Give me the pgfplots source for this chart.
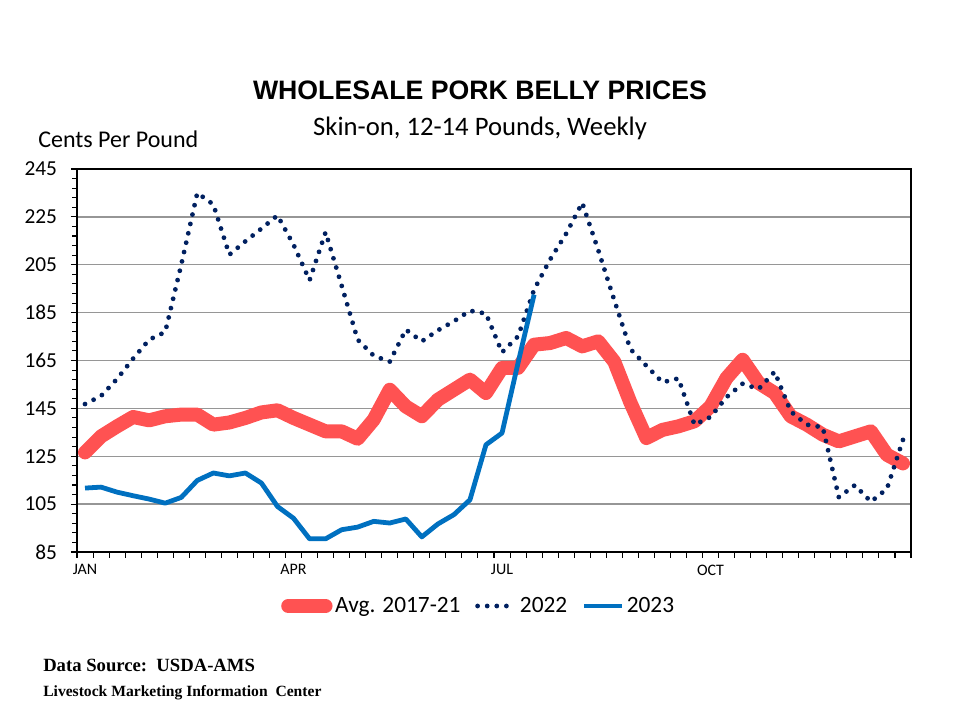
\documentclass[border=0pt]{standalone}
\usepackage{pgfplots}
\pgfplotsset{compat=1.18}
\usepackage{pgfplotstable}
\usepackage{fontspec}
\setmainfont{Carlito}
\newfontfamily\arialfont{Liberation Sans}
\newfontfamily\timesfont{Liberation Serif}

\definecolor{avgred}{RGB}{255,82,82}
\definecolor{navy}{RGB}{0,32,96}
\definecolor{blue23}{RGB}{0,112,192}
\definecolor{gridgray}{RGB}{150,150,150}

% week, cents per pound
\pgfplotstableread{
w avg
1 126.6
2 133.3
3 137.5
4 141.4
5 140.0
6 141.7
7 142.4
8 142.4
9 138.2
10 139.1
11 141.0
12 143.3
13 144.2
14 141.0
15 138.2
16 135.4
17 135.4
18 132.3
19 140.3
20 152.8
21 145.8
22 141.7
23 148.6
24 152.8
25 157.0
26 151.4
27 161.9
28 161.9
29 171.6
30 172.3
31 174.4
32 170.9
33 173.0
34 164.5
35 147.5
36 132.6
37 136.0
38 137.5
39 139.6
40 145.8
41 157.7
42 165.3
43 155.6
44 151.4
45 141.7
46 138.2
47 134.0
48 131.2
49 133.3
50 135.4
51 125.6
52 122.0
}\avgdata

\pgfplotstableread{
w y
1 146.8
2 150.2
3 157.3
4 165.8
5 173.7
6 176.9
7 205.0
8 235.0
9 230.2
10 209.2
11 214.8
12 220.1
13 225.6
14 213.4
15 198.5
16 218.6
17 196.3
18 173.7
19 167.0
20 164.5
21 177.9
22 173.0
23 177.6
24 181.4
25 185.8
26 184.6
27 168.4
28 175.1
29 194.6
30 207.2
31 218.0
32 230.9
33 211.1
34 190.2
35 169.8
36 162.8
37 155.9
38 157.5
39 138.2
40 141.4
41 149.7
42 155.3
43 153.1
44 160.3
45 143.7
46 138.2
47 137.1
48 107.9
49 112.9
50 106.0
51 111.4
52 131.9
}\yeartwo

\pgfplotstableread{
w y
1 111.7
2 112.1
3 110.0
4 108.5
5 107.1
6 105.4
7 107.8
8 114.9
9 118.0
10 116.8
11 118.0
12 113.8
13 104.0
14 99.1
15 90.5
16 90.5
17 94.3
18 95.4
19 97.8
20 97.1
21 98.8
22 91.3
23 96.7
24 100.6
25 106.8
26 129.8
27 134.7
28 164.0
29 192.5
}\yearthree

\begin{document}
\begin{tikzpicture}
\path[use as bounding box] (0,0) rectangle (720pt,540pt);

\node[anchor=base, font=\arialfont\bfseries\fontsize{20}{24}\selectfont] at (360pt,465pt) {WHOLESALE PORK BELLY PRICES};
\node[anchor=base, font=\fontsize{20}{24}\selectfont] at (360pt,438pt) {Skin-on, 12-14 Pounds, Weekly};
\node[anchor=base west, inner sep=0pt, font=\fontsize{18}{22}\selectfont] at (28.5pt,429pt) {Cents Per Pound};
\node[anchor=base west, inner sep=0pt, font=\timesfont\bfseries\fontsize{14}{17}\selectfont] at (32.25pt,36pt) {Data Source:\ \ USDA-AMS};
\node[anchor=base west, inner sep=0pt, font=\timesfont\bfseries\fontsize{11.7}{14}\selectfont] at (32.25pt,17.25pt) {Livestock Marketing Information\ \ Center};

\begin{axis}[
    at={(57.75pt,126pt)}, anchor=south west,
    scale only axis,
    width=625.5pt, height=287.25pt,
    xmin=0.5, xmax=52.5,
    ymin=85, ymax=245,
    axis line style={line width=2pt},
    tick align=outside,
    xtick pos=bottom, ytick pos=left,
    xtick={0.5,1.5,...,52.5},
    xticklabels={},
    extra x ticks={1,14,27,40},
    extra x tick labels={JAN,APR,JUL,OCT},
    extra x tick style={major tick length=0pt, grid=none,
        tick label style={yshift=-6pt}},
    ytick={85,105,...,245},
    minor y tick num=4,
    major tick length=4.5pt, minor tick length=3.5pt,
    tick style={black, line width=0.8pt},
    ymajorgrids=true,
    grid style={gridgray, line width=1.1pt},
    /pgf/number format/assume math mode=true,
    yticklabel style={font=\fontsize{16}{19}\selectfont, xshift=-7pt},
    xticklabel style={font=\fontsize{12}{14}\selectfont},
    legend columns=3,
    legend style={at={(0.482,-0.141)}, anchor=center, draw=none, fill=none,
        font=\fontsize{17.5}{21}\selectfont,
        nodes={inner xsep=2pt},
        /tikz/every odd column/.append style={column sep=0pt},
        /tikz/every even column/.append style={column sep=9pt}},
    legend cell align=left,
    legend image code/.code={\draw[#1] (0pt,0pt) -- (28pt,0pt);},
]
\addplot[avgred, line width=10.5pt, line cap=round, line join=round] table[x=w, y=avg] {\avgdata};
\addlegendentry{Avg. 2017-21}
\addplot[navy, line width=3.6pt, line cap=round, dash pattern=on 0pt off 7.2pt] table[x=w, y=y] {\yeartwo};
\addlegendentry{2022}
\addplot[blue23, line width=3.6pt, line join=round] table[x=w, y=y] {\yearthree};
\addlegendentry{2023}
\end{axis}
\end{tikzpicture}
\end{document}
